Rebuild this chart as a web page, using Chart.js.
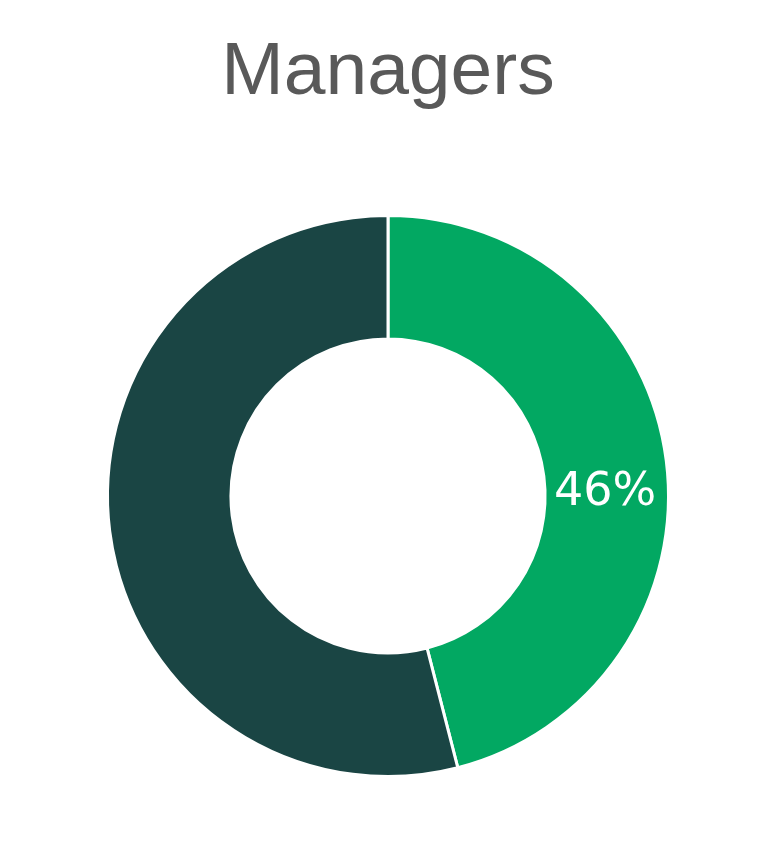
<!DOCTYPE html>
<html>
<head>
<meta charset="utf-8">
<script src="https://cdn.jsdelivr.net/npm/chart.js@4"></script>
<style>
  html, body { margin: 0; padding: 0; background: #fff; }
  #wrap { width: 779px; height: 866px; }
</style>
</head>
<body>
<div id="wrap"><canvas id="chart"></canvas></div>
<script>
const chartTitle = 'Managers';
const categories = ['Women', 'Men'];
const shares = [46, 54];
const labelsShown = ['46%', ''];
const sliceColors = ['#02A862', '#1A4544'];

// draws the percentage in the middle of the ring for each slice
const sliceLabels = {
    id: 'sliceLabels',
    afterDatasetsDraw(chart) {
        const ctx = chart.ctx;
        const meta = chart.getDatasetMeta(0);
        ctx.save();
        ctx.font = '46px "DejaVu Sans"';
        ctx.fillStyle = '#ffffff';
        ctx.textAlign = 'center';
        ctx.textBaseline = 'middle';
        meta.data.forEach((arc, i) => {
            const text = labelsShown[i];
            if (!text) return;
            const p = arc.getProps(['x', 'y', 'startAngle', 'endAngle', 'innerRadius', 'outerRadius'], true);
            const mid = (p.startAngle + p.endAngle) / 2;
            const r = (p.innerRadius + p.outerRadius) / 2;
            ctx.fillText(text, p.x + r * Math.cos(mid), p.y + r * Math.sin(mid) * 0.1);
        });
        ctx.restore();
    }
};

new Chart(document.getElementById('chart'), {
    type: 'doughnut',
    data: {
        labels: categories,
        datasets: [{
            data: shares,
            backgroundColor: sliceColors,
            borderColor: '#ffffff',
            borderWidth: 3
        }]
    },
    options: {
        responsive: true,
        maintainAspectRatio: false,
        animation: false,
        cutout: '56%',
        layout: {
            padding: { left: 106, right: 109, top: 0, bottom: 88 }
        },
        plugins: {
            legend: { display: false },
            tooltip: { enabled: false },
            title: {
                display: true,
                text: chartTitle,
                color: '#595959',
                font: { family: '"Liberation Sans", Arial, sans-serif', size: 75, weight: 'normal', lineHeight: 1.2 },
                padding: { top: 28, bottom: 96 }
            }
        }
    },
    plugins: [sliceLabels]
});
</script>
</body>
</html>
